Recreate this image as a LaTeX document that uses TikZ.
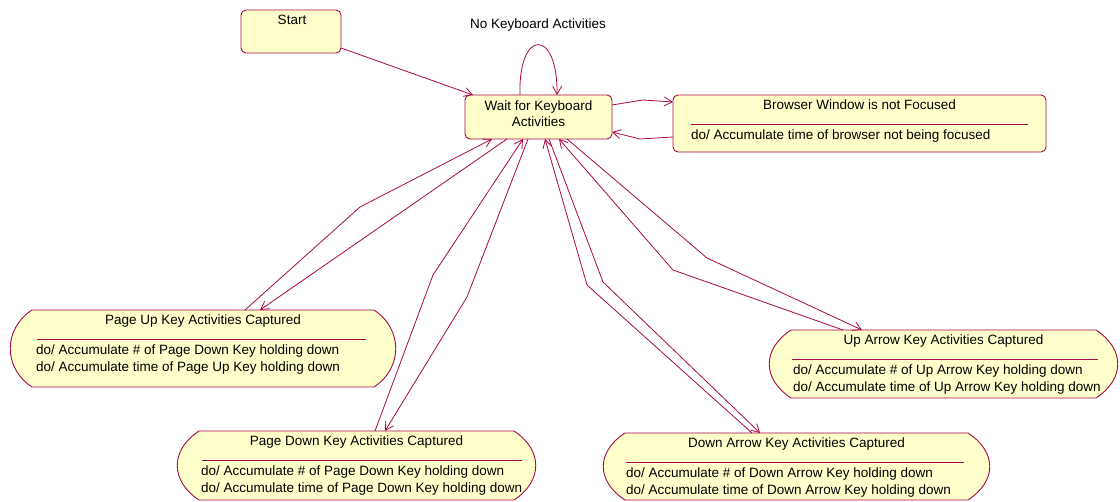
\documentclass[tikz,border=0pt]{standalone}
\usepackage{fontspec}
\setmainfont{Liberation Sans}
\usetikzlibrary{arrows.meta,calc}
\definecolor{umlline}{RGB}{165,10,70}
\definecolor{umlfill}{RGB}{255,255,204}
\tikzset{
  umlframe/.style={draw=umlline, fill=umlfill, line width=0.9pt},
  statebox/.style={umlframe, rounded corners=5pt, inner sep=0pt, outer sep=0pt},
  area/.style={inner sep=0pt, outer sep=0pt},
  txt/.style={inner sep=0pt, outer sep=0pt, font=\fontsize{13.5}{16}\selectfont},
  trans/.style={draw=umlline, line width=0.8pt, -{Straight Barb[length=8pt,width=9pt]}},
  sepline/.style={draw=umlline, line width=0.8pt}
}
% activity outline: flat top and bottom, bulging left and right ends
\newcommand\actoutline[1]{%
  \path[umlframe] ($(#1.north west)+(22,0)$) -- ($(#1.north east)+(-22,0)$)
    .. controls ($(#1.north east)+(7,19)$) and ($(#1.south east)+(7,-19)$) .. ($(#1.south east)+(-22,0)$)
    -- ($(#1.south west)+(22,0)$)
    .. controls ($(#1.south west)+(-7,-19)$) and ($(#1.north west)+(-7,19)$) .. cycle;}
% activity with title, separator and the start of its "do/" lines
\newcommand\activity[8]{% name, center, width, height, title, sep-left, sep-right, body-left
  \node[area, minimum width=#3, minimum height=#4] (#1) at #2 {};
  \actoutline{#1}
  \node[txt, anchor=base] (#1title) at ($(#1.north)+(0,14.5)$) {#5};
  \draw[sepline] ($(#1.north west)+(#6,29)$) -- ($(#1.north east)+(-#7,29)$);
  \coordinate (#1body) at ($(#1.north west)+(#8,44.5)$);}
\begin{document}
\begin{tikzpicture}[x=1pt,y=-1pt]
\fill[white] (0,0) rectangle (1120,502);
\useasboundingbox (0,0) rectangle (1120,502);

% simple states
\node[statebox, minimum width=100pt, minimum height=43pt] (start) at (291,31.5) {};
\node[txt, anchor=base] (starttxt) at ($(start.north)+(1,15)$) {Start};

\node[statebox, minimum width=147pt, minimum height=44pt] (wait) at (538.5,117) {};
\node[txt, align=center] (waittxt) at ($(wait.center)+(0,-3)$) {Wait for Keyboard\\Activities};

\node[statebox, minimum width=373pt, minimum height=57pt] (browser) at (859.5,123.5) {};
\node[txt, anchor=base] (browsertitle) at ($(browser.north)+(0,14.5)$) {Browser Window is not Focused};
\draw[sepline] ($(browser.north west)+(18,29)$) -- ($(browser.north east)+(-18,29)$);
\node[txt, anchor=base west] (browserdo) at ($(browser.north west)+(18,44.5)$) {do/ Accumulate time of browser not being focused};

% activity states
\activity{pgup}{(203,348.5)}{386pt}{77pt}{Page Up Key Activities Captured}{27}{30}{26}
\node[txt, anchor=base west] (pgupa) at (pgupbody) {do/ Accumulate \# of Page Down Key holding down};
\node[txt, anchor=base west] (pgupb) at ($(pgupbody)+(0,17)$) {do/ Accumulate time of Page Up Key holding down};

\activity{pgdn}{(356.5,465.5)}{359pt}{69pt}{Page Down Key Activities Captured}{25}{14}{24}
\node[txt, anchor=base west] (pgdna) at (pgdnbody) {do/ Accumulate \# of Page Down Key holding down};
\node[txt, anchor=base west] (pgdnb) at ($(pgdnbody)+(0,17)$) {do/ Accumulate time of Page Down Key holding down};

\activity{dnar}{(796.5,466.5)}{387pt}{67pt}{Down Arrow Key Activities Captured}{23}{26}{23}
\node[txt, anchor=base west] (dnara) at (dnarbody) {do/ Accumulate \# of Down Arrow Key holding down};
\node[txt, anchor=base west] (dnarb) at ($(dnarbody)+(0,17)$) {do/ Accumulate time of Down Arrow Key holding down};

\activity{uparr}{(943.5,364)}{349pt}{68pt}{Up Arrow Key Activities Captured}{23}{20}{24}
\node[txt, anchor=base west] (uparra) at (uparrbody) {do/ Accumulate \# of Up Arrow Key holding down};
\node[txt, anchor=base west] (uparrb) at ($(uparrbody)+(0,17)$) {do/ Accumulate time of Up Arrow Key holding down};

% transitions
\draw[trans] ($(start.south east)+(0,-5)$) -- ($(wait.north west)+(8,0)$);

\draw[trans] ($(wait.north west)+(55,0)$) .. controls (518,28) and (558,28) .. ($(wait.north west)+(92,0)$);
\node[txt] (looplbl) at (538,25) {No Keyboard Activities};

\coordinate (wbA) at (643,100);
\coordinate (wbB) at (640,139);
\draw[trans] ($(wait.north east)+(0,10)$) -- (wbA) -- ($(browser.north west)+(0,7)$);
\draw[trans] ($(browser.north west)+(0,42)$) -- (wbB) -- ($(wait.north east)+(0,37)$);

\coordinate (pgupbend) at (360,207);
\draw[trans] ($(pgup.north west)+(235,0)$) -- (pgupbend) -- ($(wait.south west)+(27,0)$);
\draw[trans] ($(wait.south west)+(42,0)$) -- ($(pgup.north west)+(250,0)$);

\coordinate (pgdnbendA) at (433,275);
\coordinate (pgdnbendB) at (467,297);
\draw[trans] ($(pgdn.north west)+(198,0)$) -- (pgdnbendA) -- ($(wait.south west)+(58,0)$);
\draw[trans] ($(wait.south west)+(63,0)$) -- (pgdnbendB) -- ($(pgdn.north west)+(208,0)$);

\coordinate (dnarbendA) at (587,285);
\coordinate (dnarbendB) at (603,282);
\draw[trans] ($(dnar.north west)+(149,0)$) -- (dnarbendA) -- ($(wait.south west)+(80,0)$);
\draw[trans] ($(wait.south west)+(84,0)$) -- (dnarbendB) -- ($(dnar.north west)+(157,0)$);

\coordinate (uparrbendA) at (673,270);
\coordinate (uparrbendB) at (707,258);
\draw[trans] ($(uparr.north west)+(74,0)$) -- (uparrbendA) -- ($(wait.south west)+(94,0)$);
\draw[trans] ($(wait.south west)+(102,0)$) -- (uparrbendB) -- ($(uparr.north west)+(93,0)$);
\end{tikzpicture}
\end{document}
